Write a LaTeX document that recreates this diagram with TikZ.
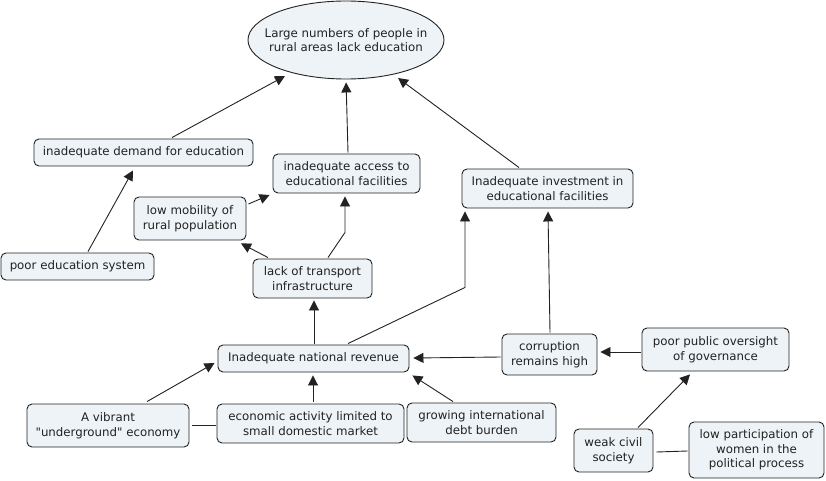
\documentclass[tikz,border=0pt]{standalone}
\usepackage{fontspec}
\setmainfont{DejaVu Sans}[Ligatures=TeXOff]
\usetikzlibrary{arrows.meta,shapes.geometric}
\definecolor{boxfill}{RGB}{237,243,246}
\definecolor{ink}{RGB}{34,34,34}
\tikzset{
  concept/.style={draw=ink, fill=boxfill, rounded corners=5pt, line width=0.9pt,
    inner sep=0pt, align=center, text=ink,
    font=\fontsize{11.8}{14.5}\selectfont},
  arr/.style={draw=ink, line width=0.9pt, -{Triangle[length=10pt,width=10pt]}},
  plain/.style={draw=ink, line width=0.9pt}
}
\begin{document}
\begin{tikzpicture}[x=1pt,y=-1pt]
\useasboundingbox (0,0) rectangle (826,481);
\node[draw=ink, fill=boxfill, ellipse, line width=0.9pt, inner xsep=-14pt, inner ysep=0pt, align=center, text=ink,
  font=\fontsize{11.8}{14.5}\selectfont, minimum width=196pt, minimum height=78pt]
  (ell) at (346,40) {Large numbers of people in\\rural areas lack education};
\node[concept, minimum width=219pt, minimum height=27pt] (demand) at (143.5,152.5) {inadequate demand for education};
\node[concept, minimum width=147pt, minimum height=39pt] (access) at (346.5,173.5) {inadequate access to\\educational facilities};
\node[concept, minimum width=112pt, minimum height=43pt] (mobility) at (190,218.5) {low mobility of\\rural population};
\node[concept, minimum width=153pt, minimum height=27pt] (poorsys) at (77.5,266.5) {poor education system};
\node[concept, minimum width=119pt, minimum height=39pt] (transport) at (312.5,278.5) {lack of transport\\infrastructure};
\node[concept, minimum width=171pt, minimum height=39pt] (invest) at (547.5,188.5) {Inadequate investment in\\educational facilities};
\node[concept, minimum width=191pt, minimum height=27pt] (revenue) at (313.5,358.5) {Inadequate national revenue};
\node[concept, minimum width=95pt, minimum height=41pt] (corrupt) at (549.5,354.5) {corruption\\remains high};
\node[concept, minimum width=147pt, minimum height=43pt] (oversight) at (715.5,349.5) {poor public oversight\\of governance};
\node[concept, minimum width=162pt, minimum height=43pt] (vibrant) at (108,425.5) {A vibrant\\"underground" economy};
\node[concept, minimum width=187pt, minimum height=39pt] (econ) at (310.5,423.5) {economic activity limited to\\small domestic market};
\node[concept, minimum width=149pt, minimum height=39pt] (debt) at (481.5,422.5) {growing international\\debt burden};
\node[concept, minimum width=79pt, minimum height=43pt] (weak) at (613.5,450.5) {weak civil\\society};
\node[concept, minimum width=135pt, minimum height=56pt] (women) at (756.5,450) {low participation of\\women in the\\political process};

% connectors
\draw[arr] ([shift={(28.5,-1)}]demand.north) -- ([shift={(-61,36)}]ell.center);
\draw[arr, shorten >=3pt] ([shift={(1.5,-1)}]access.north) -- (ell.south);
\draw[arr] ([shift={(-28.5,-1)}]invest.north) -- ([shift={(52,38)}]ell.center);
\draw[arr] ([shift={(10.5,-1)}]poorsys.north) -- ([shift={(-10.5,4)}]demand.south);
\draw[arr] ([shift={(2,-14.5)}]mobility.east) -- ([shift={(-3,21.5)}]access.west);
\draw[arr] ([shift={(-44.5,-1)}]transport.north) -- ([shift={(51,3)}]mobility.south);
\draw[arr] ([shift={(15.5,-1)}]transport.north) -- ([shift={(-1.5,39)}]access.south) -- ([shift={(-1.5,3)}]access.south);
\draw[arr] ([shift={(0.5,-1)}]revenue.north) -- ([shift={(1.5,2)}]transport.south);
\draw[arr] ([shift={(34.5,-1)}]revenue.north) -- ([shift={(-82.5,79)}]invest.south) -- ([shift={(-82.5,3)}]invest.south);
\draw[arr] ([shift={(0.5,-1)}]corrupt.north) -- ([shift={(0.5,3)}]invest.south);
\draw[arr] ([shift={(-1,2.5)}]corrupt.west) -- ([shift={(4,-0.5)}]revenue.east);
\draw[arr] ([shift={(-1,2.5)}]oversight.west) -- ([shift={(3,-2.5)}]corrupt.east);
\draw[arr] ([shift={(39,-2)}]vibrant.north) -- ([shift={(-3,4.5)}]revenue.west);
\draw[arr] ([shift={(2.5,-2)}]econ.north) -- ([shift={(-0.5,3)}]revenue.south);
\draw[arr] ([shift={(-28.5,-1)}]debt.north) -- ([shift={(3,3)}]revenue.south east);
\draw[plain] ([shift={(3,0)}]vibrant.east) -- ([shift={(-1,2)}]econ.west);
\draw[arr] ([shift={(24.5,-1)}]weak.north) -- ([shift={(-25.5,3)}]oversight.south);
\draw[plain] ([shift={(3,1.5)}]weak.east) -- ([shift={(-1,1)}]women.west);
\end{tikzpicture}
\end{document}
